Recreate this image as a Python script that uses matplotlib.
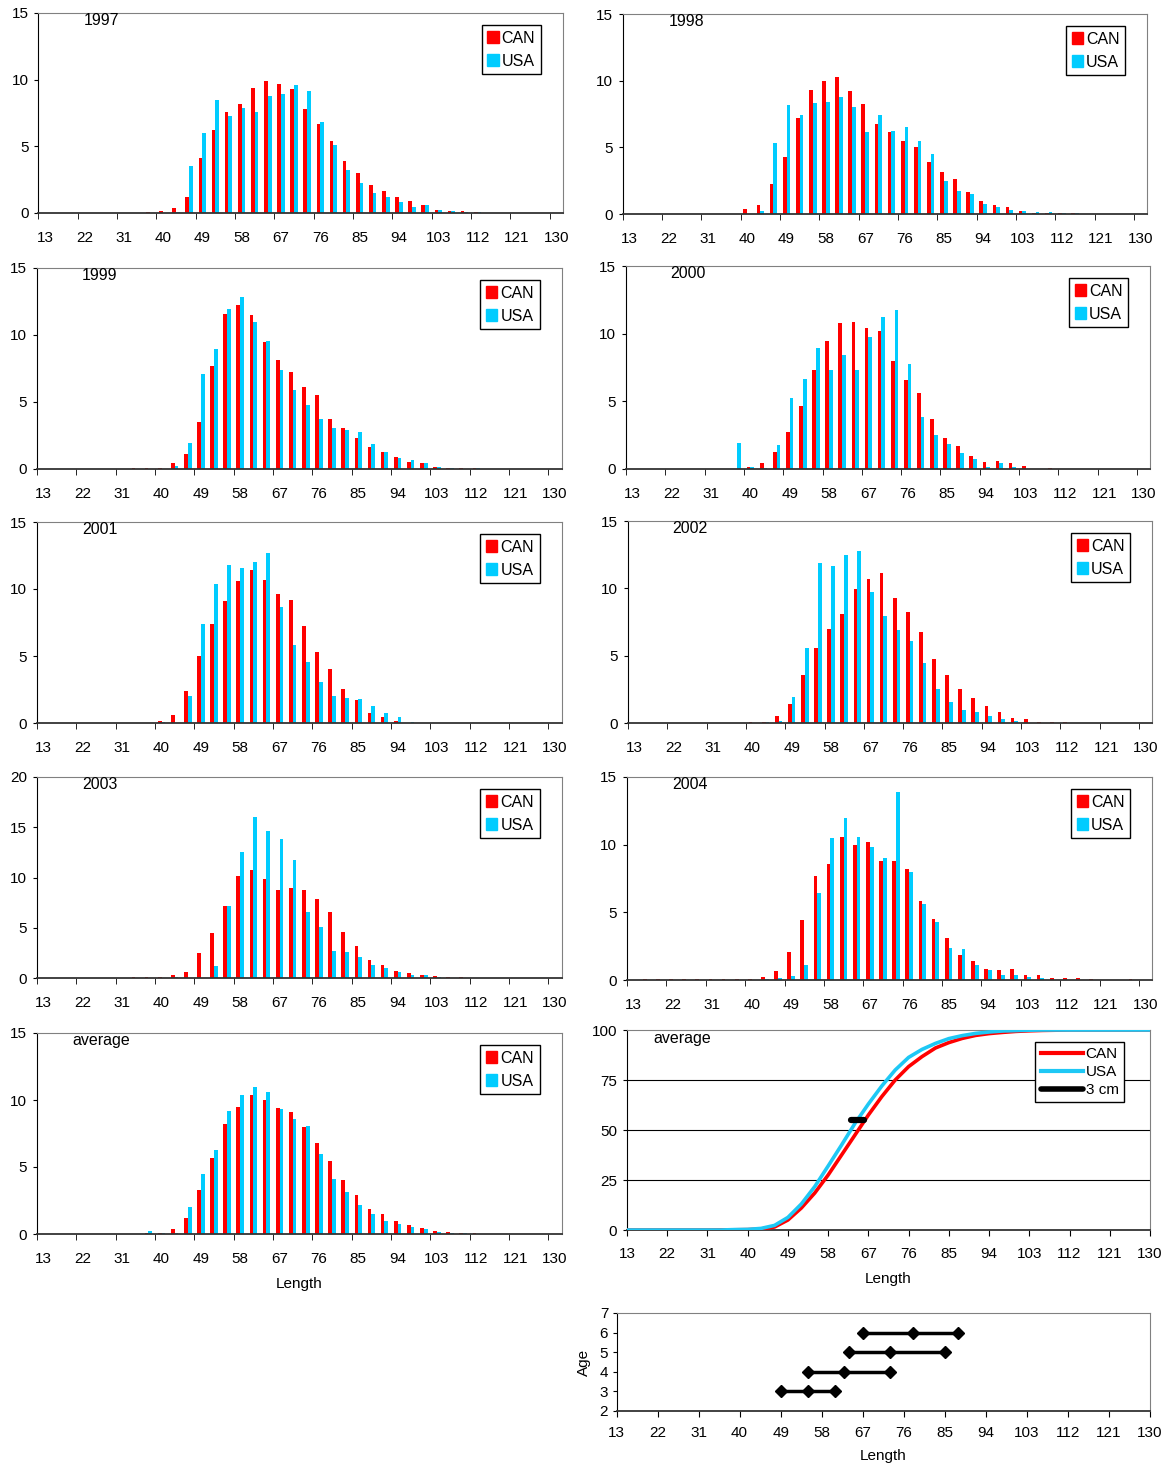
import numpy as np
import matplotlib
matplotlib.use("Agg")
import matplotlib.pyplot as plt
from matplotlib.patches import Patch
from matplotlib.lines import Line2D

plt.rcParams['font.family'] = ['Liberation Sans', 'DejaVu Sans']

# length classes (cm)
lengths = [13, 16, 19, 22, 25, 28, 31, 34, 37,
           40, 43, 46, 49, 52, 55, 58, 61, 64, 67,
           70, 73, 76, 79, 82, 85, 88, 91, 94, 97,
           100, 103, 106, 109, 112, 115, 118, 121, 124, 127, 130]

# percent at length, CAN and USA
can_1997 = [0, 0, 0, 0, 0, 0.02, 0.02, 0.03, 0.05,
            0.17, 0.37, 1.2, 4.1, 6.2, 7.6, 8.2, 9.35, 9.87, 9.65,
            9.28, 7.78, 6.66, 5.39, 3.89, 2.99, 2.09, 1.65, 1.2, 0.9,
            0.6, 0.22, 0.15, 0.15, 0.07, 0.03, 0, 0, 0, 0, 0]
usa_1997 = [0, 0, 0, 0, 0, 0, 0, 0, 0,
            0, 0.05, 3.54, 6.0, 8.5, 7.3, 7.85, 7.55, 8.75, 8.9,
            9.58, 9.13, 6.8, 5.09, 3.22, 2.24, 1.5, 1.2, 0.82, 0.45,
            0.6, 0.22, 0.15, 0.07, 0.05, 0.03, 0, 0, 0, 0, 0]
can_1998 = [0, 0, 0, 0, 0, 0, 0, 0, 0,
            0.37, 0.67, 2.23, 4.24, 7.22, 9.3, 9.98, 10.27, 9.23, 8.26,
            6.77, 6.18, 5.5, 5.06, 3.87, 3.13, 2.6, 1.64, 0.97, 0.67,
            0.52, 0.22, 0.07, 0.07, 0.07, 0.07, 0, 0, 0, 0, 0]
usa_1998 = [0, 0, 0, 0, 0, 0, 0, 0, 0,
            0, 0.25, 5.36, 8.19, 7.44, 8.34, 8.41, 8.78, 8.04, 6.18,
            7.44, 6.25, 6.55, 5.5, 4.47, 2.46, 1.71, 1.49, 0.74, 0.52,
            0.3, 0.22, 0.15, 0.15, 0.07, 0.07, 0, 0, 0, 0, 0]
can_1999 = [0, 0, 0, 0, 0, 0, 0, 0.05, 0.1,
            0.1, 0.47, 1.14, 3.53, 7.71, 11.59, 12.26, 11.52, 9.5, 8.16,
            7.26, 6.14, 5.55, 3.76, 3.08, 2.34, 1.67, 1.29, 0.92, 0.55,
            0.47, 0.17, 0.1, 0.1, 0.07, 0.03, 0, 0, 0, 0, 0]
usa_1999 = [0, 0, 0, 0, 0, 0, 0, 0, 0,
            0, 0.25, 1.97, 7.11, 8.98, 11.97, 12.86, 10.99, 9.58, 7.41,
            5.92, 4.8, 3.76, 3.08, 2.94, 2.79, 1.89, 1.29, 0.85, 0.7,
            0.47, 0.17, 0.1, 0.03, 0.05, 0, 0, 0, 0, 0, 0]
can_2000 = [0, 0, 0, 0, 0, 0, 0, 0, 0,
            0.15, 0.44, 1.26, 2.73, 4.66, 7.32, 9.46, 10.79, 10.86, 10.42,
            10.2, 7.98, 6.58, 5.62, 3.69, 2.29, 1.7, 0.96, 0.52, 0.59,
            0.44, 0.22, 0, 0.07, 0, 0, 0, 0, 0, 0, 0]
usa_2000 = [0, 0, 0, 0, 0, 0, 0, 0, 1.92,
            0.15, 0.07, 1.77, 5.25, 6.65, 8.94, 7.32, 8.42, 7.32, 9.75,
            11.23, 11.75, 7.76, 3.84, 2.51, 1.85, 1.18, 0.74, 0.15, 0.44,
            0.15, 0, 0, 0, 0, 0, 0, 0, 0, 0, 0]
can_2001 = [0, 0, 0, 0, 0, 0, 0, 0, 0,
            0.17, 0.62, 2.41, 5.01, 7.39, 9.11, 10.6, 11.41, 10.67, 9.63,
            9.18, 7.25, 5.31, 4.04, 2.56, 1.74, 0.77, 0.47, 0.17, 0.03,
            0.03, 0, 0, 0, 0, 0, 0, 0, 0, 0, 0]
usa_2001 = [0, 0, 0, 0, 0, 0, 0, 0, 0,
            0.05, 0, 2.03, 7.39, 10.37, 11.79, 11.56, 12.01, 12.68, 8.63,
            5.83, 4.57, 3.08, 2.03, 1.88, 1.81, 1.29, 0.77, 0.47, 0.1,
            0.03, 0.03, 0, 0, 0, 0, 0, 0, 0, 0, 0]
can_2002 = [0, 0, 0, 0, 0, 0, 0, 0, 0,
            0.05, 0.1, 0.54, 1.43, 3.58, 5.58, 6.99, 8.1, 9.95, 10.69,
            11.14, 9.28, 8.25, 6.77, 4.77, 3.58, 2.54, 1.88, 1.28, 0.84,
            0.4, 0.32, 0.1, 0.05, 0.05, 0, 0, 0, 0, 0, 0]
usa_2002 = [0, 0, 0, 0, 0, 0, 0, 0, 0,
            0, 0.05, 0.17, 1.95, 5.58, 11.88, 11.65, 12.47, 12.77, 9.73,
            7.95, 6.91, 6.1, 4.47, 2.54, 1.58, 0.99, 0.84, 0.54, 0.32,
            0.17, 0.03, 0.03, 0.03, 0, 0, 0, 0, 0, 0, 0]
can_2003 = [0, 0, 0, 0, 0, 0, 0.03, 0.05, 0.05,
            0.1, 0.27, 0.56, 2.45, 4.44, 7.13, 10.12, 10.71, 9.82, 8.72,
            8.92, 8.72, 7.83, 6.53, 4.54, 3.15, 1.76, 1.26, 0.66, 0.46,
            0.27, 0.17, 0.07, 0.07, 0, 0, 0, 0, 0, 0, 0]
usa_2003 = [0, 0, 0, 0, 0, 0, 0, 0, 0,
            0, 0.1, 0.03, 0.03, 1.16, 7.13, 12.5, 15.99, 14.59, 13.8,
            11.71, 6.53, 5.04, 2.65, 2.55, 2.06, 1.26, 0.96, 0.56, 0.3,
            0.27, 0.05, 0.03, 0, 0, 0, 0, 0, 0, 0, 0]
can_2004 = [0, 0.05, 0.05, 0.05, 0.05, 0.05, 0.05, 0.05, 0.05,
            0.07, 0.22, 0.67, 2.09, 4.43, 7.68, 8.55, 10.57, 9.95, 10.2,
            8.79, 8.79, 8.18, 5.86, 4.51, 3.13, 1.85, 1.38, 0.81, 0.76,
            0.81, 0.37, 0.34, 0.17, 0.12, 0.12, 0.07, 0, 0, 0.07, 0]
usa_2004 = [0, 0, 0, 0, 0, 0, 0, 0, 0,
            0, 0.07, 0.15, 0.3, 1.11, 6.43, 10.49, 11.97, 10.57, 9.83,
            9.01, 13.89, 7.98, 5.62, 4.29, 2.36, 2.29, 1.11, 0.74, 0.37,
            0.37, 0.22, 0.15, 0, 0, 0, 0, 0, 0, 0, 0]
can_avg = [0, 0, 0, 0, 0, 0, 0, 0, 0.05,
           0.1, 0.4, 1.2, 3.3, 5.7, 8.2, 9.5, 10.4, 10.0, 9.4,
           9.1, 8.0, 6.8, 5.45, 4.0, 2.9, 1.9, 1.5, 0.95, 0.7,
           0.45, 0.2, 0.12, 0.1, 0.05, 0.03, 0, 0, 0, 0, 0]
usa_avg = [0, 0, 0, 0, 0, 0, 0, 0, 0.25,
           0.05, 0.1, 2.0, 4.5, 6.3, 9.2, 10.4, 11.0, 10.6, 9.3,
           8.6, 8.05, 6.0, 4.1, 3.1, 2.2, 1.5, 1.0, 0.75, 0.5,
           0.35, 0.15, 0.1, 0.05, 0.03, 0, 0, 0, 0, 0, 0]

# cumulative percent (average)
cum_can = [0, 0, 0, 0, 0, 0, 0, 0.05, 0.1,
           0.2, 0.5, 1.5, 5, 11, 18.5, 27.5, 37.5, 47.5, 57.5,
           66.7, 75, 81.7, 86.7, 91, 93.7, 95.8, 97.3, 98.2, 98.8,
           99.3, 99.6, 99.8, 99.9, 100, 100, 100, 100, 100, 100, 100]
cum_usa = [0, 0, 0, 0, 0, 0, 0, 0, 0.2,
           0.3, 0.8, 2.3, 6.3, 13, 21.7, 32, 42.5, 53.3, 63,
           72, 80, 86.3, 90.3, 93.3, 95.7, 97.2, 98.3, 99, 99.5,
           99.7, 99.9, 100, 100, 100, 100, 100, 100, 100, 100, 100]
scale_x = [63, 66]   # 3 cm bar
scale_y = [55, 55]

# length range per age
ages = [3, 4, 5, 6]
age_min = [49, 55, 64, 67]
age_mid = [55, 63, 73, 78]
age_max = [61, 73, 85, 88]

RED = '#FF0000'
CYAN = '#00CCFF'
W, H = 1165, 1464
FS = 11

fig = plt.figure(figsize=(W / 100, H / 100), dpi=100)


def make_ax(left, top, right, bottom):
    ax = fig.add_axes([left / W, 1 - bottom / H, (right - left) / W, (bottom - top) / H])
    ax.spines['top'].set_color('#808080')
    ax.spines['right'].set_color('#808080')
    ax.spines['left'].set_color('black')
    ax.spines['bottom'].set_color('#333333')
    ax.spines['bottom'].set_linewidth(1.3)
    ax.tick_params(labelsize=FS)
    return ax


def bar_panel(box, can, usa, label, ymax, ystep, label_dx=45):
    left, top, right, bottom = box
    ax = make_ax(left, top, right, bottom)
    idx = np.arange(len(lengths))
    ax.bar(idx - 0.143, can, width=0.286, color=RED, linewidth=0)
    ax.bar(idx + 0.143, usa, width=0.286, color=CYAN, linewidth=0)
    ax.set_xlim(-0.5, len(lengths) - 0.5)
    ax.set_ylim(0, ymax)
    ax.set_yticks(np.arange(0, ymax + 1, ystep))
    ax.set_xticks(idx[::3])
    ax.set_xticklabels(lengths[::3])
    ax.set_xticks(idx[::3] - 0.5, minor=True)
    ax.tick_params(axis='x', which='major', length=0, pad=13)
    ax.tick_params(axis='x', which='minor', length=4, direction='out')
    ax.tick_params(axis='y', length=3, pad=4)
    wpx, hpx = right - left, bottom - top
    ax.text(label_dx / wpx, 1 - 7.5 / hpx, label, transform=ax.transAxes,
            ha='left', va='center', fontsize=11.5)
    handles = [Patch(color=RED), Patch(color=CYAN)]
    leg = ax.legend(handles, ['CAN', 'USA'], loc='upper right',
                    bbox_to_anchor=(1 - 22 / wpx, 1 - 12 / hpx), borderaxespad=0,
                    fontsize=11.5, handlelength=0.7, handleheight=0.7,
                    handletextpad=0.2, labelspacing=0.5, borderpad=0.35,
                    fancybox=False, framealpha=1)
    leg.get_frame().set_edgecolor('black')
    leg.get_frame().set_linewidth(1)
    return ax


bar_panel((38.4, 13, 562.8, 213), can_1997, usa_1997, '1997', 15, 5)
bar_panel((622.7, 14, 1147, 214), can_1998, usa_1998, '1998', 15, 5, 46)
bar_panel((37, 268, 561.5, 469), can_1999, usa_1999, '1999', 15, 5)
bar_panel((626, 266, 1150, 469), can_2000, usa_2000, '2000', 15, 5, 44)
bar_panel((37, 522, 561.5, 723), can_2001, usa_2001, '2001', 15, 5)
bar_panel((628, 521, 1152, 723), can_2002, usa_2002, '2002', 15, 5, 44)
bar_panel((37, 777, 561.5, 978), can_2003, usa_2003, '2003', 20, 5)
bar_panel((627, 777, 1152, 980), can_2004, usa_2004, '2004', 15, 5)
ax_avg = bar_panel((37, 1033, 561.5, 1234), can_avg, usa_avg, 'average', 15, 5, 35)
ax_avg.set_xlabel('Length', fontsize=FS, labelpad=8)

# cumulative
left, top, right, bottom = 627, 1030, 1150, 1230
ax = make_ax(left, top, right, bottom)
for yv in [25, 50, 75]:
    ax.axhline(yv, color='black', lw=0.8, zorder=1)
ax.plot(lengths, cum_can, color=RED, lw=2.6, zorder=3)
ax.plot(lengths, cum_usa, color='#1EC8F5', lw=2.6, zorder=4)
ax.plot(scale_x, scale_y, color='black', lw=4.5, solid_capstyle='round', zorder=5)
ax.set_xlim(13, 130)
ax.set_ylim(0, 100)
ax.set_xticks(lengths[::3])
ax.set_yticks([0, 25, 50, 75, 100])
ax.tick_params(axis='x', length=4, pad=8)
ax.tick_params(axis='y', length=3, pad=4)
ax.set_xlabel('Length', fontsize=FS, labelpad=8)
ax.text(26 / (right - left), 1 - 9 / (bottom - top), 'average', transform=ax.transAxes,
        ha='left', va='center', fontsize=11.5)
handles = [Line2D([], [], color=RED, lw=3), Line2D([], [], color='#1EC8F5', lw=3),
           Line2D([], [], color='black', lw=4, solid_capstyle='round')]
leg = ax.legend(handles, ['CAN', 'USA', '3 cm'], loc='upper right',
                bbox_to_anchor=(1 - 26 / (right - left), 1 - 12 / (bottom - top)),
                borderaxespad=0, fontsize=11, handlelength=2.8, handletextpad=0.15,
                labelspacing=0.25, borderpad=0.35, fancybox=False, framealpha=1)
leg.get_frame().set_edgecolor('black')
leg.get_frame().set_linewidth(1)

# age vs length
ax = make_ax(616.5, 1313, 1150, 1411)
for a, lo, mid, hi in zip(ages, age_min, age_mid, age_max):
    ax.plot([lo, mid, hi], [a, a, a], color='black', lw=2.5, marker='D', markersize=6.5)
ax.set_xlim(13, 130)
ax.set_ylim(2, 7)
ax.set_xticks(lengths[::3])
ax.set_yticks([2, 3, 4, 5, 6, 7])
ax.tick_params(axis='x', length=4, pad=7)
ax.tick_params(axis='y', length=3, pad=3)
ax.set_xlabel('Length', fontsize=FS, labelpad=6)
ax.set_ylabel('Age', fontsize=FS, labelpad=6)

fig.savefig('out.png', dpi=100)
